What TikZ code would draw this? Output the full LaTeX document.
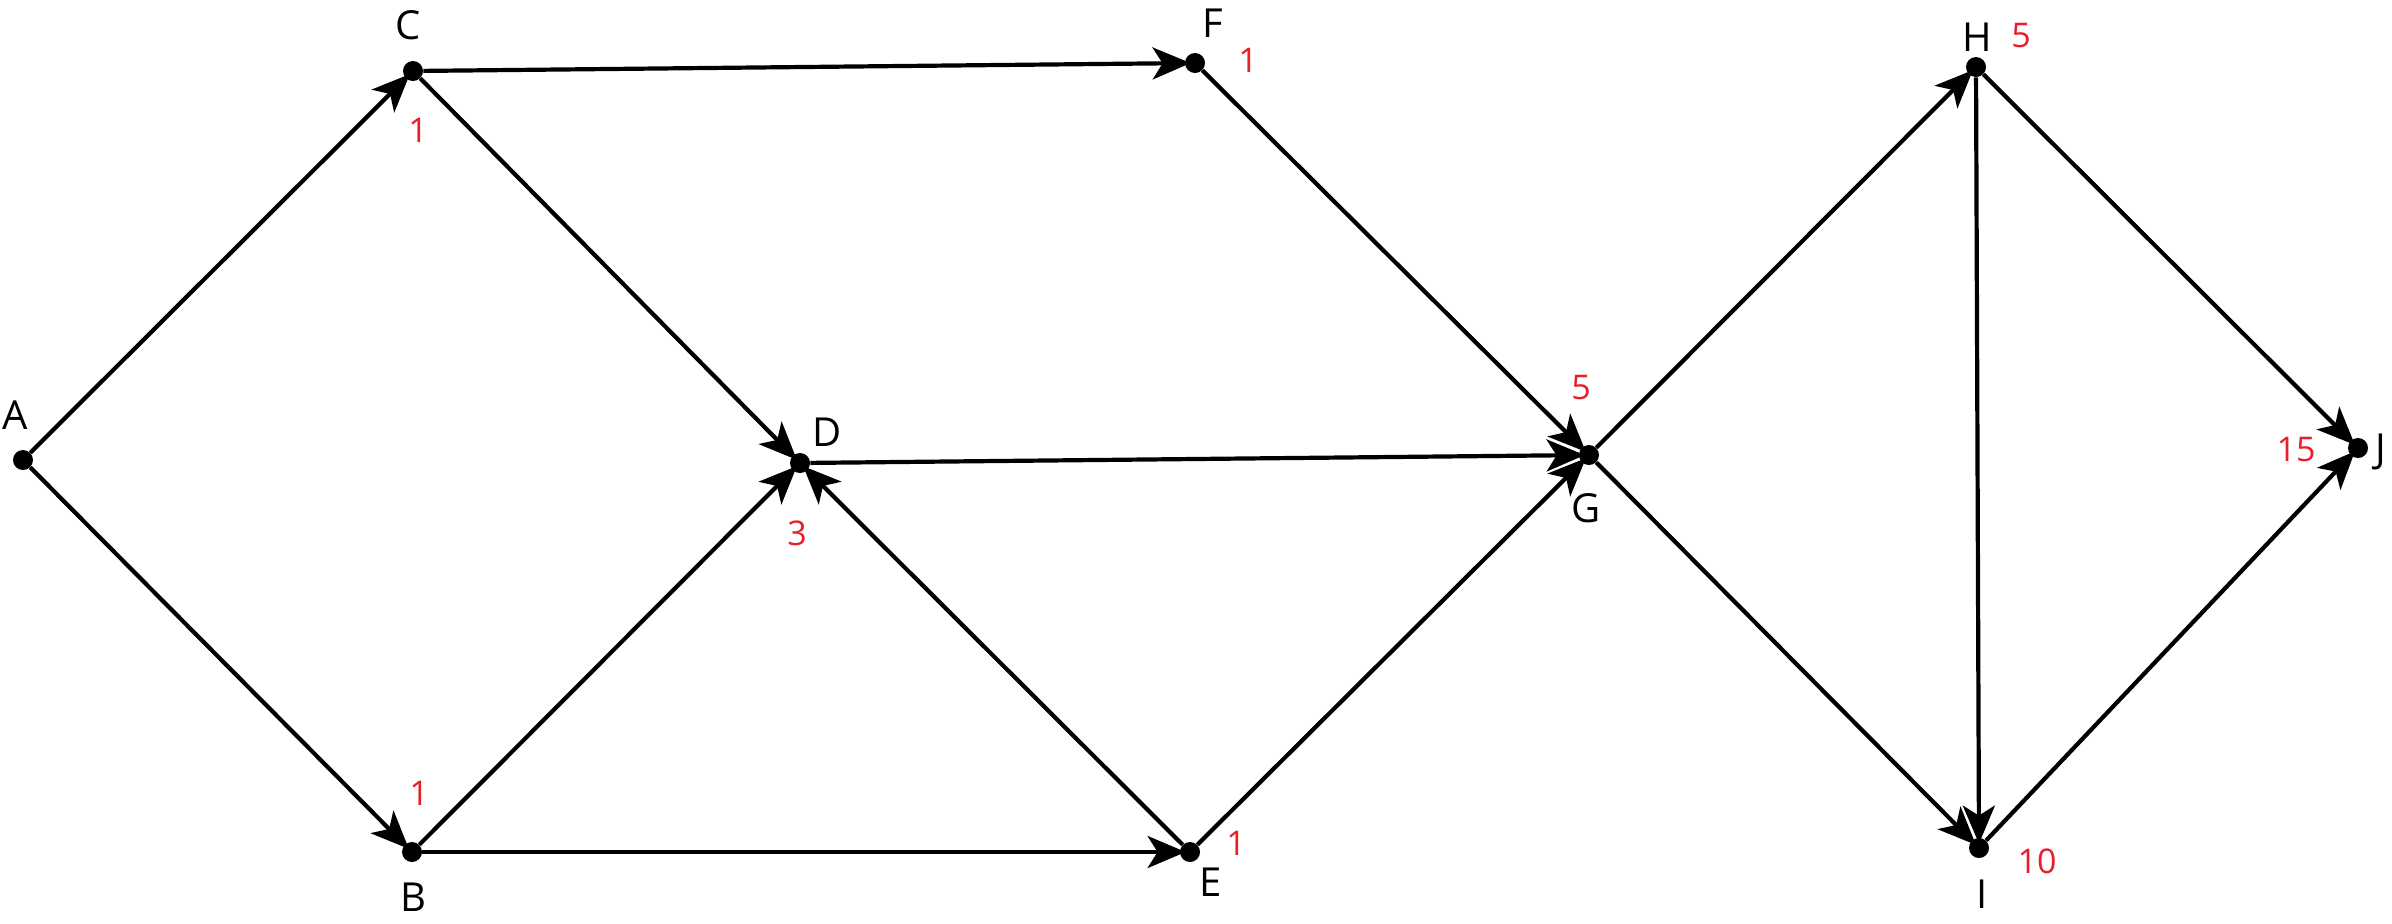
\documentclass[tikz,border=0pt]{standalone}
\usepackage{fontspec}
\setmainfont{Open Sans}
\usetikzlibrary{arrows.meta}
\definecolor{numred}{RGB}{232,30,40}
\begin{document}
\begin{tikzpicture}[x=0.5pt,y=-0.5pt,
  dot/.style={circle,fill=black,inner sep=0pt,minimum size=10pt},
  lbl/.style={font=\fontsize{20}{22}\selectfont,inner sep=0pt},
  num/.style={font=\fontsize{17}{20}\selectfont,text=numred,inner sep=0pt},
  edge/.style={line width=2.1pt,shorten >=-3pt,-{Stealth[length=19pt,width=16pt,inset=5pt]}}]
\useasboundingbox (0,0) rectangle (2392,923);
\node[dot] (A) at (23,460) {};
\node[dot] (C) at (413,71) {};
\node[dot] (F) at (1195,63) {};
\node[dot] (D) at (800,463) {};
\node[dot] (B) at (412,852) {};
\node[dot] (E) at (1190,852) {};
\node[dot] (G) at (1589,455) {};
\node[dot] (H) at (1976,67) {};
\node[dot] (I) at (1979,848) {};
\node[dot] (J) at (2358,448) {};
\node[lbl] (lA) at (15,415) {A};
\node[lbl] (lC) at (408,25) {C};
\node[lbl] (lF) at (1213,23) {F};
\node[lbl] (lD) at (827,432) {D};
\node[lbl] (lB) at (413,897) {B};
\node[lbl] (lE) at (1211,882) {E};
\node[lbl] (lG) at (1586,508) {G};
\node[lbl] (lH) at (1977,37) {H};
\node[lbl] (lI) at (1982,894) {I};
\node[lbl] (lJ) at (2381,452) {J};
\node[num] (nC) at (418,130) {1};
\node[num] (nF) at (1248,60) {1};
\node[num] (nD) at (797,533) {3};
\node[num] (nB) at (419,793) {1};
\node[num] (nE) at (1236,843) {1};
\node[num] (nG) at (1581,388) {5};
\node[num] (nH) at (2021,36) {5};
\node[num] (nI) at (2037,861) {10};
\node[num] (nJ) at (2296,450) {15};
\draw[edge] (A) -- (C);
\draw[edge] (A) -- (B);
\draw[edge] (C) -- (F);
\draw[edge] (C) -- (D);
\draw[edge] (B) -- (D);
\draw[edge] (B) -- (E);
\draw[edge] (E) -- (D);
\draw[edge] (D) -- (G);
\draw[edge] (F) -- (G);
\draw[edge] (E) -- (G);
\draw[edge] (G) -- (H);
\draw[edge] (G) -- (I);
\draw[edge] (H) -- (I);
\draw[edge] (H) -- (J);
\draw[edge] (I) -- (J);
\end{tikzpicture}
\end{document}
